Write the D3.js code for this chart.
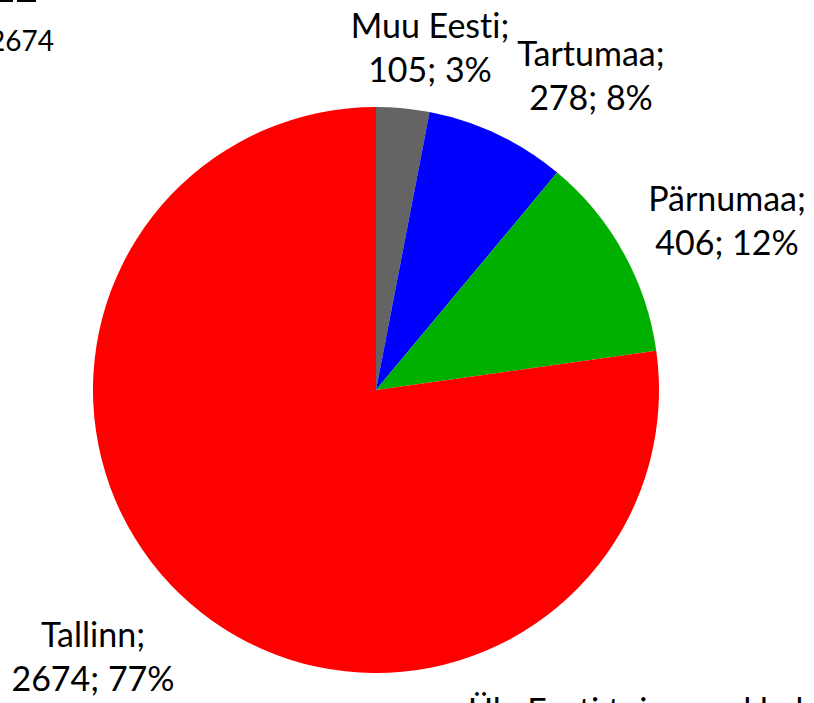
<!DOCTYPE html>
<html>
<head>
<meta charset="utf-8">
<script src="https://cdn.jsdelivr.net/npm/d3@7"></script>
<style>
  body { margin: 0; background: #fff; }
  svg text { font-family: Lato, "Open Sans", sans-serif; fill: #000; font-variant-ligatures: none; }
</style>
</head>
<body>
<svg id="pieNode"></svg>
<script>
// data
const regions = ['Muu Eesti', 'Tartumaa', 'Pärnumaa', 'Tallinn'];
const counts = [105, 278, 406, 2674];
const shares = ['3%', '8%', '12%', '77%'];
const sliceColors = ['#646464', '#0000ff', '#00b000', '#ff0000'];

// where each label sits (centre x, first baseline)
const labelPos = [[430, 38], [591, 66], [727, 211], [93, 647]];

const width = 814, height = 703;
const cx = 376, cy = 390, radius = 283;
const lineH = 44;

const svg = d3.select('#pieNode')
  .attr('width', width)
  .attr('height', height);

const data = regions.map((r, i) => ({ name: r, value: counts[i], share: shares[i], color: sliceColors[i] }));

const pie = d3.pie()
  .value(d => d.value)
  .sort(null);

const arc = d3.arc()
  .innerRadius(0)
  .outerRadius(radius);

const chart = svg.append('g')
  .attr('transform', `translate(${cx}, ${cy})`);

chart.selectAll('path')
  .data(pie(data))
  .enter()
  .append('path')
  .attr('d', arc)
  .attr('fill', d => d.data.color);

// slice labels
const labels = svg.selectAll('.lbl')
  .data(data)
  .enter()
  .append('text')
  .attr('class', 'lbl')
  .attr('text-anchor', 'middle')
  .style('font-size', '34px');

labels.append('tspan')
  .attr('x', (d, i) => labelPos[i][0])
  .attr('y', (d, i) => labelPos[i][1])
  .text(d => d.name + ';');

labels.append('tspan')
  .attr('x', (d, i) => labelPos[i][0])
  .attr('y', (d, i) => labelPos[i][1] + lineH)
  .text(d => d.value + '; ' + d.share);

// fragments of the surrounding page that are cut off
svg.append('line')
  .attr('x1', 0).attr('x2', 13).attr('y1', 1).attr('y2', 1)
  .attr('stroke', '#000').attr('stroke-width', 2);
svg.append('line')
  .attr('x1', 17).attr('x2', 36).attr('y1', 1).attr('y2', 1)
  .attr('stroke', '#000').attr('stroke-width', 2);

svg.append('text')
  .attr('x', 54)
  .attr('y', 51)
  .attr('text-anchor', 'end')
  .style('font-size', '28px')
  .text(counts[3]);

svg.append('text')
  .attr('x', 468)
  .attr('y', 723)
  .style('font-size', '34px')
  .text('Üle Eesti toimunud kokku');
</script>
</body>
</html>
